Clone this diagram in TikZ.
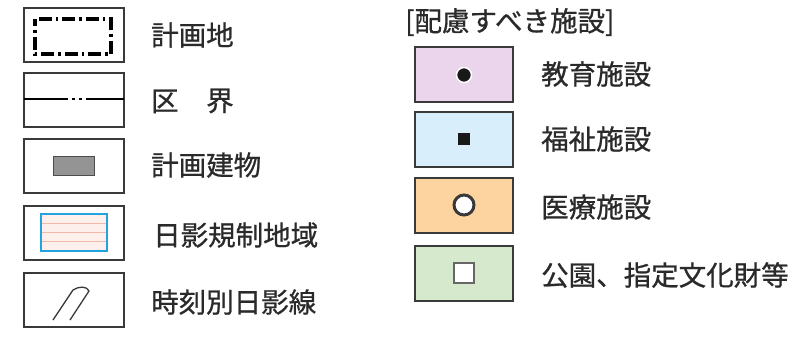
\documentclass[tikz,border=0pt]{standalone}
\usepackage{fontspec}
\setmainfont{Noto Sans CJK JP}
\newfontfamily\lblfont[FakeBold=0.8]{Noto Sans CJK JP}
\definecolor{edu}{HTML}{EBD5EC}
\definecolor{wel}{HTML}{D8EEFA}
\definecolor{med}{HTML}{FDD49F}
\definecolor{park}{HTML}{D7E9CC}
\definecolor{frm}{HTML}{3A3A3A}
\definecolor{txt}{HTML}{2A2A2A}
\definecolor{shblue}{HTML}{22A3DE}
\definecolor{shpink}{HTML}{F2B9AA}
\definecolor{shfill}{HTML}{FDF0EC}
\begin{document}
\begin{tikzpicture}[x=1pt,y=-1pt,
  leftbox/.style={draw=frm, line width=2pt, minimum width=100pt, minimum height=54pt, inner sep=0},
  rightbox/.style={draw=frm, line width=2pt, minimum width=98pt, minimum height=55pt, inner sep=0},
  lbl/.style={anchor=west, font=\lblfont\fontsize{27.5}{27.5}\selectfont, text=txt, inner sep=0}]
\useasboundingbox (0,0) rectangle (810,338);
\fill[white] (0,0) rectangle (810,338);

% ---- left column ----
\node[leftbox] (b1) at (74,35) {};
\draw[line width=3.2pt, dash pattern=on 13pt off 4pt on 2.5pt off 4pt, dash phase=6pt] (35,19) rectangle (111,54);
\node[lbl] (t1) at (151,35) {計画地};

\node[leftbox] (b2) at (74,100) {};
\coordinate (l2a) at (24,99);
\coordinate (l2b) at (124,99);
\draw[line width=2.4pt, dash pattern=on 44pt off 4pt on 3pt off 4pt on 3pt off 4pt on 60pt] (l2a) -- (l2b);
\node[lbl] (t2) at (151,101) {区　界};

\node[leftbox] (b3) at (74,166) {};
\node[draw=black!70, fill=black!42, line width=0.8pt, minimum width=41pt, minimum height=19pt, inner sep=0] (g3) at (74,166) {};
\node[lbl] (t3) at (151,165) {計画建物};

\node[leftbox] (b4) at (74,233) {};
\fill[shfill] (41,214) rectangle (107,251);
\foreach \yy in {223,232,241} \draw[shpink, line width=0.9pt] (41,\yy) -- (107,\yy);
\draw[shblue, line width=2.6pt] (41,214) rectangle (107,251);
\node[lbl] (t4) at (153,235) {日影規制地域};

\node[leftbox] (b5) at (74,300) {};
\draw[frm, line width=1.3pt, line join=round] (53,320) -- (73,290) .. controls (79,286) and (87,286) .. (89,291) -- (70,320);
\node[lbl] (t5) at (151,302) {時刻別日影線};

% ---- right column ----
\node[lbl] (hdr) at (405,22) {[配慮すべき施設]};

\node[rightbox, fill=edu] (r1) at (464,74) {};
\node[circle, fill=black!90, draw=white, line width=1.5pt, minimum size=15pt, inner sep=0] (m1) at (464,75) {};
\node[lbl] (s1) at (541,74) {教育施設};

\node[rightbox, fill=wel] (r2) at (464,139) {};
\node[fill=black!90, minimum size=12pt, inner sep=0] (m2) at (464,139) {};
\node[lbl] (s2) at (541,139) {福祉施設};

\node[rightbox, fill=med] (r3) at (464,205) {};
\node[circle, draw=frm, fill=white, line width=3pt, minimum size=20pt, inner sep=0] (m3) at (464,205) {};
\node[lbl] (s3) at (541,207) {医療施設};

\node[rightbox, fill=park] (r4) at (464,273) {};
\node[draw=black!60, fill=white, line width=1.8pt, minimum size=20pt, inner sep=0] (m4) at (464,273) {};
\node[lbl] (s4) at (541,275) {公園、指定文化財等};
\end{tikzpicture}
\end{document}
